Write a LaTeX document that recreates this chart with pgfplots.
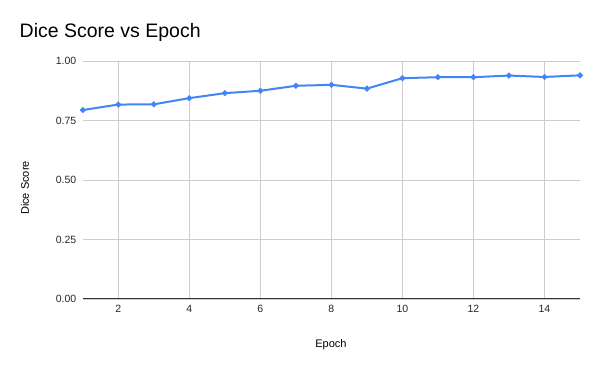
\documentclass[border=0pt]{standalone}
\usepackage{pgfplots}
\pgfplotsset{compat=1.18}
\usepackage{fontspec}
\setmainfont{Liberation Sans}
\definecolor{gblue}{HTML}{4285F4}
\definecolor{gridc}{HTML}{CCCCCC}
\definecolor{axisc}{HTML}{333333}
\begin{document}
\begin{tikzpicture}[x=1pt,y=1pt]
\useasboundingbox (0,0) rectangle (600,371);
\begin{axis}[
  at={(82.8pt,72pt)}, anchor=south west,
  scale only axis, width=497.2pt, height=237.7pt,
  xmin=1, xmax=15, ymin=0, ymax=1,
  xtick={2,4,...,14}, ytick={0,0.25,0.5,0.75,1},
  grid=major, major grid style={draw=gridc, line width=0.8pt},
  major tick length=0pt,
  axis x line*=bottom, axis y line*=left,
  y axis line style={draw=none},
  x axis line style={draw=axisc, line width=1pt},
  /pgf/number format/assume math mode=true,
  tick label style={font=\fontsize{10.5}{12}\selectfont, text=black!85},
  yticklabel style={xshift=-3pt, /pgf/number format/fixed, /pgf/number format/fixed zerofill, /pgf/number format/precision=2},
  xticklabel style={yshift=-3pt},
  clip=false,
]
\addplot[color=gblue, line width=2pt, mark=*, mark size=1.8pt] coordinates {
(1,0.795) (2,0.818) (3,0.819) (4,0.845) (5,0.866) (6,0.876) (7,0.897) (8,0.901)
(9,0.885) (10,0.929) (11,0.933) (12,0.933) (13,0.940) (14,0.934) (15,0.941)
};
\end{axis}
\node[anchor=base west, inner sep=0pt, font=\fontsize{19.5}{22}\selectfont] at (19.5,333.3) {Dice Score vs Epoch};
\node[anchor=center, inner sep=0pt, font=\fontsize{11}{13}\selectfont] at (331,26) {Epoch};
\node[anchor=center, inner sep=0pt, rotate=90, font=\fontsize{11}{13}\selectfont] at (25,183) {Dice Score};
\end{tikzpicture}
\end{document}
